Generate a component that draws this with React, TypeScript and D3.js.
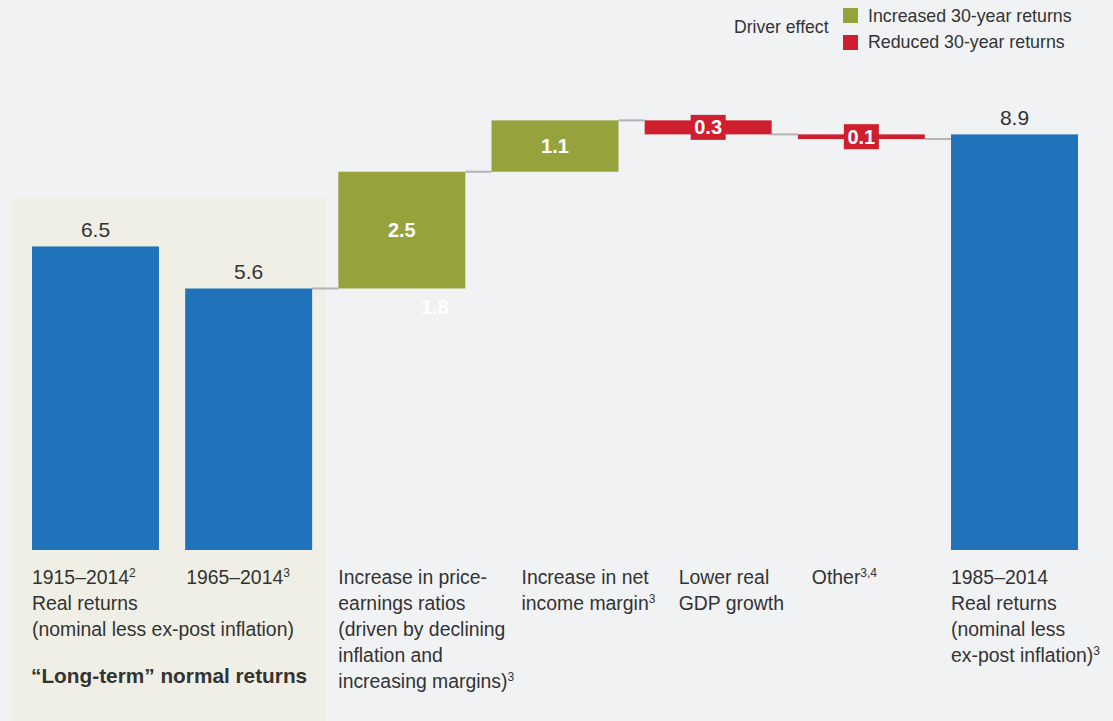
import React from "react";
import * as d3 from "d3";

const categories = ["1915–2014", "1965–2014", "PE ratios", "Net income margin", "Lower real GDP growth", "Other", "1985–2014"];
const values = [6.5, 5.6, 2.5, 1.1, -0.3, -0.1, 8.9];
const kinds = ["total", "total", "delta", "delta", "delta", "delta", "total"];
const valueLabels = ["6.5", "5.6", "2.5", "1.1", "0.3", "0.1", "8.9"];
const categoryLabels: string[][] = [
  ["1915–2014^2", "Real returns", "(nominal less ex-post inflation)"],
  ["1965–2014^3"],
  ["Increase in price-", "earnings ratios", "(driven by declining", "inflation and", "increasing margins)^3"],
  ["Increase in net", "income margin^3"],
  ["Lower real", "GDP growth"],
  ["Other^3,4"],
  ["1985–2014", "Real returns", "(nominal less", "ex-post inflation)^3"],
];
const labelOffsets = [0, 1, 0, 30, 34, 14, 0];
const legendItems = ["Increased 30-year returns", "Reduced 30-year returns"];
const groupLabel = "“Long-term” normal returns";
const ghostLabel = "1.8";

const W = 1113, H = 721;
const BLUE = "#2073bb", GREEN = "#96a33c", RED = "#cf1f2e", TEXT = "#333333", GRID = "#b4b4b4";
const FONT = "'Liberation Sans', Arial, Helvetica, sans-serif";

function Label({ s, x, y, size, weight }: { s: string; x: number; y: number; size: number; weight?: string }) {
  const [main, sup] = s.split("^");
  return (
    <text x={x} y={y} fontSize={size} fill={TEXT} fontFamily={FONT} fontWeight={weight || "normal"}>
      {main}
      {sup !== undefined && (
        <tspan fontSize={size * 0.62} dy={-size * 0.38}>{sup}</tspan>
      )}
    </text>
  );
}

export default function App() {
  const x = d3.scaleBand<string>().domain(categories).range([32, 1078]).paddingInner(0.171).paddingOuter(0);
  const y = d3.scaleLinear().domain([0, 10]).range([550, 550 - 467]);

  let running = 0;
  const bars = categories.map((c, i) => {
    let y0: number, y1: number;
    if (kinds[i] === "total") {
      y0 = 0; y1 = values[i]; running = values[i];
    } else {
      y0 = running; y1 = running + values[i]; running = y1;
    }
    const top = Math.max(y0, y1), bot = Math.min(y0, y1);
    const color = kinds[i] === "total" ? BLUE : values[i] >= 0 ? GREEN : RED;
    return { c, i, top, bot, end: y1, color };
  });
  const bw = x.bandwidth();

  return (
    <svg width={W} height={H} style={{ position: "absolute", left: 0, top: 0, background: "#f1f2f4" }}>
      <rect x={0} y={0} width={W} height={H} fill="#f1f2f4" />
      <rect x={11} y={198} width={315} height={H - 198} fill="#efefe5" />

      {/* connectors (from the start total through the drivers to the end total) */}
      {bars.slice(1, -1).map((b) => {
        const i = b.i;
        const level = kinds[i] === "total" ? b.top : b.end;
        return (
          <line key={"c" + i} x1={(x(b.c) as number) + bw} x2={x(bars[i + 1].c) as number}
            y1={y(level)} y2={y(level)} stroke={GRID} strokeWidth={2} />
        );
      })}

      {bars.map((b) => (
        <rect key={"b" + b.i} x={x(b.c)} y={y(b.top)} width={bw} height={y(b.bot) - y(b.top)} fill={b.color} />
      ))}

      {bars.map((b) => {
        const cx = (x(b.c) as number) + bw / 2;
        if (kinds[b.i] === "total") {
          return (
            <text key={"v" + b.i} x={cx} y={y(b.top) - 9} textAnchor="middle" fontSize={21} fill={TEXT} fontFamily={FONT}>
              {valueLabels[b.i]}
            </text>
          );
        }
        const cy = (y(b.top) + y(b.bot)) / 2;
        if (values[b.i] >= 0) {
          return (
            <text key={"v" + b.i} x={cx} y={cy + 7} textAnchor="middle" fontSize={20} fontWeight="bold" fill="#ffffff" fontFamily={FONT}>
              {valueLabels[b.i]}
            </text>
          );
        }
        return (
          <g key={"v" + b.i}>
            <rect x={cx - 17.5} y={cy - 12.5} width={35} height={25} fill={RED} />
            <text x={cx} y={cy + 7} textAnchor="middle" fontSize={20} fontWeight="bold" fill="#ffffff" fontFamily={FONT}>
              {valueLabels[b.i]}
            </text>
          </g>
        );
      })}

      <text x={(x(categories[2]) as number) + bw / 2 + 33} y={y(values[1]) + 26} textAnchor="middle" fontSize={20}
        fontWeight="bold" fill="#ffffff" fontFamily={FONT}>{ghostLabel}</text>

      {categoryLabels.map((lines, i) =>
        lines.map((s, j) => (
          <Label key={"l" + i + "-" + j} s={s} x={(x(categories[i]) as number) + labelOffsets[i]} y={584 + j * 26} size={19.4} />
        ))
      )}
      <Label s={groupLabel} x={31} y={683} size={20.8} weight="bold" />

      <text x={734} y={33} fontSize={17.6} fill={TEXT} fontFamily={FONT}>Driver effect</text>
      <rect x={843} y={8} width={15} height={15} fill={GREEN} />
      <rect x={843} y={35} width={15} height={15} fill={RED} />
      <text x={868} y={22} fontSize={17.8} fill={TEXT} fontFamily={FONT}>{legendItems[0]}</text>
      <text x={868} y={48} fontSize={17.8} fill={TEXT} fontFamily={FONT}>{legendItems[1]}</text>
    </svg>
  );
}
